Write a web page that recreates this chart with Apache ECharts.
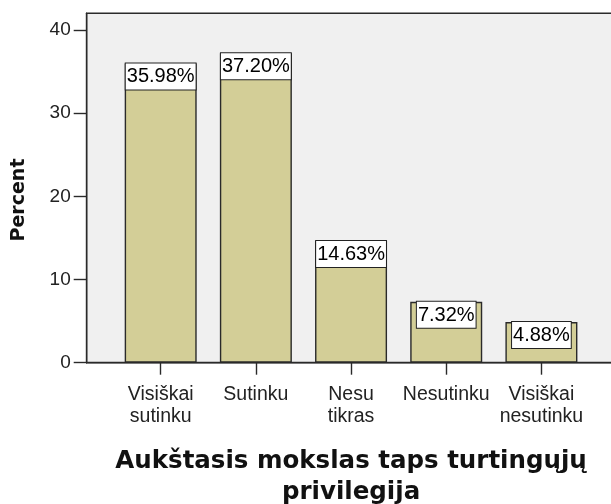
<!DOCTYPE html>
<html>
<head>
<meta charset="utf-8">
<script src="https://cdn.jsdelivr.net/npm/echarts@6/dist/echarts.min.js"></script>
<style>
  html, body { margin: 0; padding: 0; background: #ffffff; }
  #chart { width: 611px; height: 504px; }
</style>
</head>
<body>
<div id="chart"></div>
<script>
// Answer categories (x axis)
const categories = ['Visiškai\nsutinku', 'Sutinku', 'Nesu\ntikras', 'Nesutinku', 'Visiškai\nnesutinku'];
// Share of respondents per answer, in percent
const percents = [35.98, 37.20, 14.63, 7.32, 4.88];
// Y axis tick values
const yTicks = [0, 10, 20, 30, 40];

const yMax = 42;
const plotTop = 13.3;
const plotBottom = 504 - 362.7;

const chart = echarts.init(document.getElementById('chart'), null, { renderer: 'canvas' });

chart.setOption({
  animation: false,
  backgroundColor: '#ffffff',
  grid: [
    {
      // framed plot background, extends past the right edge
      left: 86.7, top: plotTop, right: -20, bottom: plotBottom,
      outerBoundsMode: 'none', containLabel: false,
      show: true, backgroundColor: '#f0f0f0', borderColor: '#2a2a2a', borderWidth: 1.4
    },
    {
      // bar area
      left: 113.1, top: plotTop, right: 22, bottom: plotBottom,
      outerBoundsMode: 'none', containLabel: false
    }
  ],
  xAxis: [
    {
      gridIndex: 0, type: 'value', min: 0, max: 1,
      axisLine: { show: true, lineStyle: { color: '#2a2a2a', width: 1.4 } },
      axisTick: { show: false }, axisLabel: { show: false }, splitLine: { show: false }
    },
    {
      gridIndex: 1, type: 'category', data: categories,
      axisLine: { show: false },
      axisTick: { show: true, alignWithLabel: true, length: 12, lineStyle: { color: '#2a2a2a', width: 1.4 } },
      axisLabel: {
        margin: 21, fontFamily: 'Liberation Sans', fontSize: 19.5, lineHeight: 22,
        color: '#222', interval: 0
      },
      name: 'Aukštasis mokslas taps turtingųjų\nprivilegija',
      nameLocation: 'middle', nameGap: 83,
      nameTextStyle: {
        fontFamily: 'DejaVu Sans', fontWeight: 'bold', fontSize: 24.5, lineHeight: 31, color: '#111'
      }
    }
  ],
  yAxis: [
    {
      gridIndex: 0, type: 'value', min: 0, max: yMax,
      axisLine: { show: true, lineStyle: { color: '#2a2a2a', width: 1.4 } },
      axisTick: { show: true, customValues: yTicks, length: 13, lineStyle: { color: '#2a2a2a', width: 1.4 } },
      axisLabel: {
        customValues: yTicks, margin: 16, fontFamily: 'Liberation Sans', fontSize: 19, color: '#222',
        padding: [5, 0, 0, 0]
      },
      splitLine: { show: false },
      name: 'Percent', nameLocation: 'middle', nameRotate: 90, nameGap: 58,
      nameTextStyle: {
        fontFamily: 'DejaVu Sans', fontWeight: 'bold', fontSize: 19, color: '#111',
        padding: [0, 24, 0, 0]
      }
    },
    {
      gridIndex: 1, type: 'value', min: 0, max: yMax, show: false
    }
  ],
  series: [
    {
      type: 'bar',
      xAxisIndex: 1, yAxisIndex: 1,
      data: percents,
      barWidth: 72,
      itemStyle: { color: '#d3ce97', borderColor: '#2a2a2a', borderWidth: 1.4 },
      label: {
        show: true, position: 'insideTop', distance: 0,
        formatter: p => p.value.toFixed(2) + '%',
        fontFamily: 'Liberation Sans', fontSize: 20, lineHeight: 21, color: '#000',
        backgroundColor: '#ffffff', borderColor: '#222', borderWidth: 1,
        padding: [3, 1, 2, 1]
      }
    }
  ]
});
</script>
</body>
</html>
